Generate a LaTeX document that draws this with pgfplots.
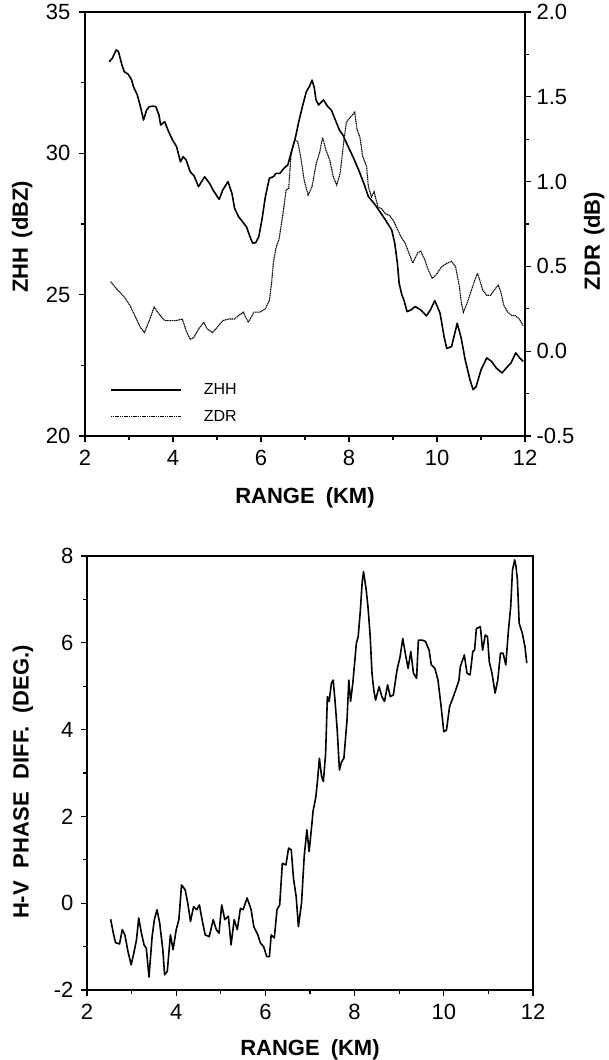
\documentclass[border=0pt]{standalone}
\usepackage{pgfplots}
\pgfplotsset{compat=1.18}
\usepackage{pgfplotstable}
\usepackage{fontspec}
\setmainfont{Liberation Sans}

\pgfplotstableread{
x y
2.55 33.24
2.62 33.36
2.71 33.66
2.76 33.60
2.84 33.12
2.89 32.89
2.98 32.80
3.06 32.60
3.10 32.36
3.19 32.06
3.26 31.65
3.33 31.18
3.40 31.53
3.46 31.65
3.55 31.67
3.61 31.65
3.68 31.36
3.72 31.00
3.81 31.12
3.90 30.77
3.99 30.47
4.08 30.24
4.17 29.70
4.23 29.88
4.30 29.76
4.39 29.35
4.48 29.20
4.58 28.82
4.65 29.00
4.72 29.17
4.83 28.94
4.91 28.70
5.05 28.37
5.13 28.70
5.25 29.00
5.34 28.58
5.40 28.05
5.49 27.76
5.58 27.58
5.67 27.40
5.75 27.05
5.81 26.82
5.88 26.84
5.95 27.05
6.02 27.64
6.10 28.47
6.19 29.12
6.28 29.17
6.34 29.29
6.43 29.29
6.52 29.47
6.61 29.59
6.68 30.00
6.77 30.47
6.85 31.06
6.94 31.65
7.03 32.18
7.10 32.36
7.16 32.59
7.21 32.33
7.25 31.89
7.31 31.71
7.42 31.89
7.51 31.67
7.60 31.53
7.69 31.18
7.78 30.83
7.86 30.65
7.98 30.24
8.09 29.88
8.22 29.41
8.35 28.88
8.44 28.47
8.57 28.23
8.70 27.94
8.83 27.64
8.97 27.29
9.04 26.82
9.10 26.11
9.14 25.40
9.20 25.00
9.25 24.80
9.32 24.40
9.41 24.46
9.50 24.58
9.63 24.46
9.76 24.25
9.85 24.46
9.95 24.79
10.07 24.34
10.16 23.52
10.22 23.10
10.33 23.16
10.46 23.99
10.55 23.46
10.64 22.70
10.75 21.99
10.82 21.64
10.89 21.75
11.00 22.34
11.13 22.76
11.24 22.64
11.35 22.40
11.48 22.23
11.57 22.40
11.68 22.58
11.79 22.94
11.88 22.76
11.96 22.64
}\zhh

\pgfplotstableread{
x y
2.58 0.41
2.71 0.37
2.89 0.32
3.02 0.27
3.15 0.20
3.26 0.14
3.35 0.11
3.46 0.18
3.57 0.26
3.68 0.22
3.81 0.18
3.94 0.18
4.07 0.18
4.21 0.19
4.30 0.12
4.39 0.07
4.47 0.08
4.58 0.13
4.70 0.17
4.78 0.13
4.90 0.11
5.00 0.14
5.13 0.18
5.27 0.19
5.40 0.19
5.49 0.21
5.60 0.23
5.71 0.17
5.84 0.23
5.97 0.23
6.10 0.25
6.19 0.30
6.24 0.40
6.28 0.52
6.34 0.61
6.41 0.66
6.50 0.81
6.57 0.95
6.63 0.96
6.68 1.15
6.75 1.24
6.83 1.24
6.90 1.15
6.98 1.01
7.07 0.92
7.16 0.97
7.25 1.10
7.34 1.18
7.40 1.26
7.47 1.19
7.56 1.13
7.64 1.03
7.72 0.98
7.80 1.05
7.87 1.21
7.94 1.35
8.00 1.37
8.07 1.39
8.13 1.41
8.18 1.31
8.25 1.26
8.31 1.15
8.40 1.09
8.44 0.97
8.51 0.91
8.57 0.94
8.66 0.85
8.74 0.84
8.83 0.81
8.92 0.80
9.01 0.77
9.10 0.72
9.19 0.67
9.27 0.64
9.36 0.58
9.45 0.52
9.56 0.58
9.63 0.59
9.72 0.54
9.80 0.48
9.89 0.43
9.98 0.45
10.11 0.50
10.24 0.52
10.33 0.53
10.42 0.50
10.51 0.38
10.55 0.29
10.60 0.23
10.68 0.28
10.77 0.35
10.86 0.42
10.92 0.46
10.97 0.42
11.04 0.36
11.13 0.33
11.22 0.33
11.30 0.36
11.39 0.39
11.45 0.35
11.52 0.27
11.61 0.23
11.70 0.21
11.78 0.21
11.87 0.19
11.96 0.15
}\zdr

\pgfplotstableread{
x y
2.53 -0.37
2.59 -0.69
2.64 -0.91
2.73 -0.94
2.79 -0.61
2.85 -0.73
2.92 -1.12
2.99 -1.42
3.05 -1.15
3.11 -0.84
3.16 -0.34
3.22 -0.69
3.28 -0.96
3.33 -1.04
3.39 -1.70
3.46 -0.77
3.51 -0.38
3.57 -0.15
3.63 -0.46
3.70 -1.07
3.74 -1.65
3.80 -1.57
3.87 -0.73
3.93 -1.07
4.00 -0.61
4.06 -0.38
4.12 0.42
4.20 0.31
4.26 0.00
4.32 -0.42
4.39 -0.08
4.46 -0.15
4.52 -0.04
4.58 -0.38
4.65 -0.73
4.74 -0.77
4.83 -0.38
4.90 -0.61
4.96 -0.69
5.02 -0.04
5.09 -0.38
5.17 -0.30
5.23 -0.96
5.30 -0.38
5.37 -0.61
5.44 -0.12
5.50 -0.15
5.59 0.12
5.68 -0.15
5.74 -0.54
5.83 -0.73
5.89 -0.92
5.96 -1.00
6.03 -1.23
6.09 -1.23
6.13 -0.73
6.20 -0.80
6.26 -0.15
6.32 -0.04
6.38 0.92
6.46 0.88
6.52 1.27
6.58 1.23
6.63 0.57
6.69 0.15
6.74 -0.54
6.81 0.00
6.87 1.08
6.93 1.69
6.98 1.19
7.04 1.80
7.07 2.13
7.13 2.44
7.17 2.84
7.21 3.34
7.26 2.92
7.30 2.80
7.35 3.45
7.39 4.76
7.43 4.65
7.48 5.07
7.52 5.14
7.56 4.68
7.61 3.99
7.66 3.07
7.71 3.26
7.76 3.34
7.83 4.22
7.87 5.14
7.91 4.65
7.96 5.07
8.00 5.53
8.04 5.99
8.08 6.14
8.13 6.76
8.17 7.40
8.20 7.64
8.26 7.22
8.30 6.83
8.35 6.14
8.39 5.30
8.43 4.91
8.47 4.68
8.55 4.99
8.61 4.76
8.67 4.65
8.74 5.03
8.80 4.76
8.87 4.80
8.95 5.37
9.02 5.68
9.08 6.10
9.15 5.68
9.20 5.41
9.26 5.80
9.32 5.30
9.39 5.18
9.43 6.06
9.52 6.06
9.59 6.03
9.67 5.83
9.72 5.49
9.80 5.41
9.87 5.14
9.94 4.53
10.00 3.95
10.06 3.99
10.13 4.53
10.20 4.72
10.28 4.95
10.34 5.14
10.37 5.45
10.46 5.72
10.52 5.30
10.59 5.26
10.65 5.80
10.69 5.83
10.73 6.33
10.82 6.37
10.87 5.83
10.93 6.18
10.98 6.14
11.02 5.56
11.08 5.30
11.15 4.84
11.21 5.14
11.27 5.76
11.33 5.76
11.39 5.49
11.45 6.30
11.50 6.83
11.54 7.68
11.59 7.91
11.62 7.75
11.65 7.45
11.69 6.45
11.76 6.22
11.82 5.91
11.86 5.53
}\phase

\pgfplotsset{
  myaxis/.style={
    scale only axis,
    axis line style={line width=1.4pt},
    every tick/.style={black, line width=1.1pt},
    tick align=outside,
    major tick length=6pt,
    minor tick length=4pt,
    tick label style={font=\fontsize{22}{26}\selectfont},
    xticklabel style={yshift=-5pt},
    label style={font=\bfseries\fontsize{22}{26}\selectfont},
    /pgf/number format/assume math mode=true,
    xmin=2, xmax=12, xtick={2,4,...,12}, minor xtick={3,5,...,11},
    clip=false,
  }
}

\begin{document}
\begin{tikzpicture}[x=1pt,y=1pt]
\path[use as bounding box] (0,0) rectangle (608,1060);

% ---------------- top panel, left axis (ZHH)
\begin{axis}[myaxis,
  at={(85pt,624pt)}, anchor=south west, width=440pt, height=424pt,
  ymin=20, ymax=35, ytick={20,25,30,35}, minor ytick={22.5,27.5,32.5},
  axis y line*=left, xtick pos=left,
  yticklabel style={xshift=-5pt},
  xlabel={RANGE\hspace{11pt}(KM)}, ylabel={ZHH\hspace{9pt}(dBZ)},
  xlabel style={at={(axis description cs:0.5,-0.146)}, anchor=center},
  ylabel style={at={(axis description cs:-0.143,0.47)}, anchor=center},
]
\addplot[black, line width=1.6pt, line join=round] table[x=x,y=y] {\zhh};
\end{axis}

% ---------------- top panel, right axis (ZDR)
\begin{axis}[myaxis,
  at={(85pt,624pt)}, anchor=south west, width=440pt, height=424pt,
  axis x line=none, axis y line*=right,
  ymin=-0.5, ymax=2.0, ytick={-0.5,0,0.5,1.0,1.5,2.0},
  minor ytick={-0.25,0.25,0.75,1.25,1.75},
  yticklabel style={xshift=2pt, /pgf/number format/.cd, fixed, fixed zerofill, precision=1},
  ylabel={ZDR\hspace{9pt}(dB)},
  ylabel style={at={(axis description cs:1.157,0.46)}, anchor=center},
  legend style={draw=none, fill=none, at={(axis description cs:0.057,0.128)},
    anchor=north west, font=\fontsize{16}{18}\selectfont, row sep=10pt,
    column sep=20pt, inner sep=0pt},
  legend cell align=left,
  legend image code/.code={\draw[#1] (0pt,0pt) -- (70pt,0pt);},
]
\addlegendimage{black, line width=1.6pt}
\addlegendentry{ZHH}
\addplot[black, line width=1.1pt, dash pattern=on 1.2pt off 0.6pt] table[x=x,y=y] {\zdr};
\addlegendentry{ZDR}
\end{axis}

% ---------------- bottom panel
\begin{axis}[myaxis,
  at={(87pt,70pt)}, anchor=south west, width=446pt, height=434pt,
  ymin=-2, ymax=8, ytick={-2,0,...,8}, minor ytick={-1,1,...,7},
  xtick pos=left, ytick pos=left,
  yticklabel style={xshift=-4pt},
  xlabel={RANGE\hspace{11pt}(KM)},
  ylabel={H-V\hspace{13pt}PHASE\hspace{13pt}DIFF.\hspace{13pt}(DEG.)},
  xlabel style={at={(axis description cs:0.5,-0.138)}, anchor=center},
  ylabel style={at={(axis description cs:-0.1435,0.479)}, anchor=center},
]
\addplot[black, line width=1.6pt, line join=round] table[x=x,y=y] {\phase};
\end{axis}
\end{tikzpicture}
\end{document}
